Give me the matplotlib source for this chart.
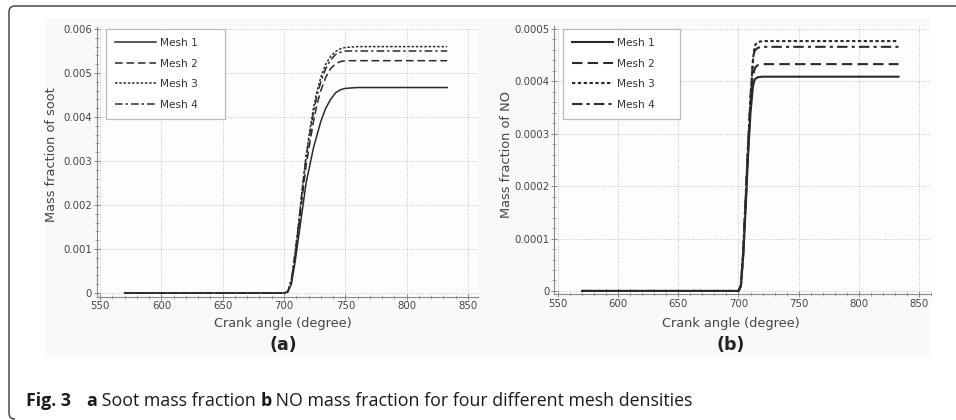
import matplotlib
matplotlib.use("Agg")
import matplotlib.pyplot as plt
from matplotlib.patches import Rectangle, PathPatch
from matplotlib.path import Path
from matplotlib.ticker import MultipleLocator, FuncFormatter

W, H = 956, 420

# ---------------- data ----------------
mesh_labels = ["Mesh 1", "Mesh 2", "Mesh 3", "Mesh 4"]

soot_angle = [570, 700, 703, 706, 709, 712, 715, 718, 721, 724, 727, 730, 734, 738, 742, 746, 750, 760, 833]
soot_mesh1 = [0, 0, 0.00002, 0.0002, 0.0007, 0.0013, 0.0019, 0.0025, 0.0029, 0.0033, 0.0036, 0.0039, 0.0042, 0.0044, 0.00455, 0.00462, 0.00465, 0.00467, 0.00467]
soot_mesh2 = [0, 0, 0.00002, 0.00025, 0.0008, 0.0015, 0.0022, 0.0029, 0.0034, 0.0039, 0.0043, 0.0046, 0.0049, 0.0051, 0.00521, 0.00526, 0.00528, 0.00528, 0.00528]
soot_mesh3 = [0, 0, 0.00003, 0.0003, 0.0009, 0.0016, 0.0024, 0.0031, 0.0037, 0.0042, 0.0046, 0.0049, 0.0052, 0.00538, 0.00549, 0.00555, 0.00558, 0.0056, 0.0056]
soot_mesh4 = [0, 0, 0.00003, 0.0003, 0.0009, 0.0016, 0.0024, 0.0031, 0.0036, 0.0041, 0.0045, 0.0048, 0.0051, 0.0053, 0.00542, 0.00547, 0.0055, 0.0055, 0.0055]

no_angle = [570, 700, 702, 704, 706, 708, 710, 712, 713, 714, 716, 720, 833]
no_mesh1 = [0, 0, 0.00001, 0.00007, 0.00016, 0.00026, 0.00034, 0.00039, 0.000400, 0.000405, 0.000408, 0.000409, 0.000409]
no_mesh2 = [0, 0, 0.00001, 0.00007, 0.00017, 0.00027, 0.00036, 0.00041, 0.00042, 0.000427, 0.000431, 0.000433, 0.000433]
no_mesh3 = [0, 0, 0.00001, 0.00008, 0.00018, 0.00028, 0.00037, 0.00044, 0.00046, 0.00047, 0.000475, 0.000477, 0.000477]
no_mesh4 = [0, 0, 0.00001, 0.00008, 0.00018, 0.00028, 0.00037, 0.00044, 0.000455, 0.00046, 0.000464, 0.000466, 0.000466]

xticks = [550, 600, 650, 700, 750, 800, 850]
soot_yticks = [0, 0.001, 0.002, 0.003, 0.004, 0.005, 0.006]
no_yticks = [0, 0.0001, 0.0002, 0.0003, 0.0004, 0.0005]

xlabel = "Crank angle (degree)"
soot_ylabel = "Mass fraction of soot"
no_ylabel = "Mass fraction of NO"
caption_bold = "Fig. 3"
caption_rest = ["a", " Soot mass fraction ", "b", " NO mass fraction for four different mesh densities"]

# ---------------- styles ----------------
line_color = "#2a2a2a"
styles = [dict(ls="-"), dict(ls=(0, (5, 2.5))), dict(ls=(0, (1.6, 1.2))), dict(ls=(0, (5, 2, 1.5, 2)))]
tick_font = dict(family="DejaVu Sans", size=7.3, color="#444444")

fig = plt.figure(figsize=(W / 100, H / 100), dpi=100)
fig.patch.set_facecolor("white")

def fx(px):
    return px / W

def fy(py):
    return 1 - py / H

# faint chart-image background
fig.add_artist(Rectangle((fx(45), fy(357)), fx(930) - fx(45), fy(18) - fy(357),
                         transform=fig.transFigure, facecolor="#f9f9f9", edgecolor="none", zorder=-10))

def make_axes(rect, xlim, ylim, yticks, fmt, angle, series, ylabel, ylabel_x, legend_rect, lw, sub, sub_x):
    ax = fig.add_axes(rect)
    ax.set_facecolor("#fdfdfd")
    for i, (ys, lab) in enumerate(zip(series, mesh_labels)):
        ax.plot(angle, ys, color=line_color, lw=lw, label=lab, **styles[i])
    ax.set_xlim(*xlim)
    ax.set_ylim(*ylim)
    ax.set_xticks(xticks)
    ax.set_yticks(yticks)
    ax.xaxis.set_minor_locator(MultipleLocator(10))
    ax.yaxis.set_minor_locator(MultipleLocator(yticks[1] / 5))
    ax.yaxis.set_major_formatter(FuncFormatter(fmt))
    ax.grid(True, which="major", color="#c4c4c4", ls=(0, (1, 1.5)), lw=0.7)
    for s in ["top", "right"]:
        ax.spines[s].set_visible(False)
    for s in ["left", "bottom"]:
        ax.spines[s].set_color("#888888")
        ax.spines[s].set_linewidth(0.8)
    ax.tick_params(which="major", direction="inout", length=4, width=0.6, color="#777777", pad=1.5)
    ax.tick_params(which="minor", direction="inout", length=2.5, width=0.5, color="#888888")
    for t in ax.get_xticklabels() + ax.get_yticklabels():
        t.set_fontfamily(tick_font["family"])
        t.set_fontsize(tick_font["size"])
        t.set_color(tick_font["color"])
    leg = ax.legend(loc="upper left", bbox_to_anchor=legend_rect, bbox_transform=fig.transFigure,
                    mode="expand", frameon=True, fancybox=False, framealpha=1,
                    handlelength=3.9, handletextpad=0.4, labelspacing=1.0, borderpad=0.85,
                    borderaxespad=0, prop=dict(family="DejaVu Sans", size=7.6))
    leg.get_frame().set_edgecolor("#bbbbbb")
    leg.get_frame().set_linewidth(0.9)
    for t in leg.get_texts():
        t.set_color("#333333")
    fig.text(fx(ylabel_x), fy(155), ylabel, rotation=90, ha="center", va="center",
             fontsize=9.3, color="#444444", family="DejaVu Sans")
    fig.text(fx(sub_x), fy(323), xlabel, ha="center", va="center", fontsize=9.3,
             color="#444444", family="DejaVu Sans")
    fig.text(fx(sub_x), fy(345), sub, ha="center", va="center", fontsize=12.5,
             color="#222222", family="DejaVu Sans", weight="bold")
    return ax

soot_fmt = lambda v, p: "0" if abs(v) < 1e-12 else f"{v:.3f}"
no_fmt = lambda v, p: "0" if abs(v) < 1e-12 else f"{v:.4f}"

left_rect = [fx(97), fy(296.5), fx(477.8) - fx(97), fy(26.8) - fy(296.5)]
make_axes(left_rect, (547.5, 858), (-0.00008, 0.00605), soot_yticks, soot_fmt, soot_angle,
          [soot_mesh1, soot_mesh2, soot_mesh3, soot_mesh4], soot_ylabel, 52,
          (fx(106), fy(29), fx(225) - fx(106), 0), 1.1, "(a)", 283)

right_rect = [fx(554.4), fy(294.1), fx(931) - fx(554.4), fy(26.4) - fy(294.1)]
make_axes(right_rect, (547, 860), (-0.000006, 0.000505), no_yticks, no_fmt, no_angle,
          [no_mesh1, no_mesh2, no_mesh3, no_mesh4], no_ylabel, 506,
          (fx(563), fy(29), fx(680) - fx(563), 0), 1.5, "(b)", 731)

# ---------------- caption frame ----------------
r = 6
verts = [(W, 6), (9 + r, 6), (9, 6), (9, 6 + r), (9, 419 - r), (9, 419), (9 + r, 419)]
codes = [Path.MOVETO, Path.LINETO, Path.CURVE3, Path.CURVE3, Path.LINETO, Path.CURVE3, Path.CURVE3]
verts_fig = [(fx(x), fy(y)) for x, y in verts]
fig.add_artist(PathPatch(Path(verts_fig, codes), transform=fig.transFigure,
                         facecolor="none", edgecolor="#4a4a4a", lw=1.1))

# ---------------- caption text ----------------
cap_font = "Open Sans"
cap_size = 12.8
renderer = fig.canvas.get_renderer()
x = 26
t = fig.text(fx(x), fy(401), caption_bold, ha="left", va="center", fontsize=cap_size,
             family=cap_font, weight="bold", color="#1a1a1a")
x = t.get_window_extent(renderer).x1 + 15
for i, part in enumerate(caption_rest):
    t = fig.text(x / W, fy(401), part, ha="left", va="center", fontsize=cap_size, family=cap_font,
                 weight="bold" if i % 2 == 0 else "normal", color="#1a1a1a")
    x = t.get_window_extent(renderer).x1

fig.savefig("out.png", dpi=100, facecolor="white")
